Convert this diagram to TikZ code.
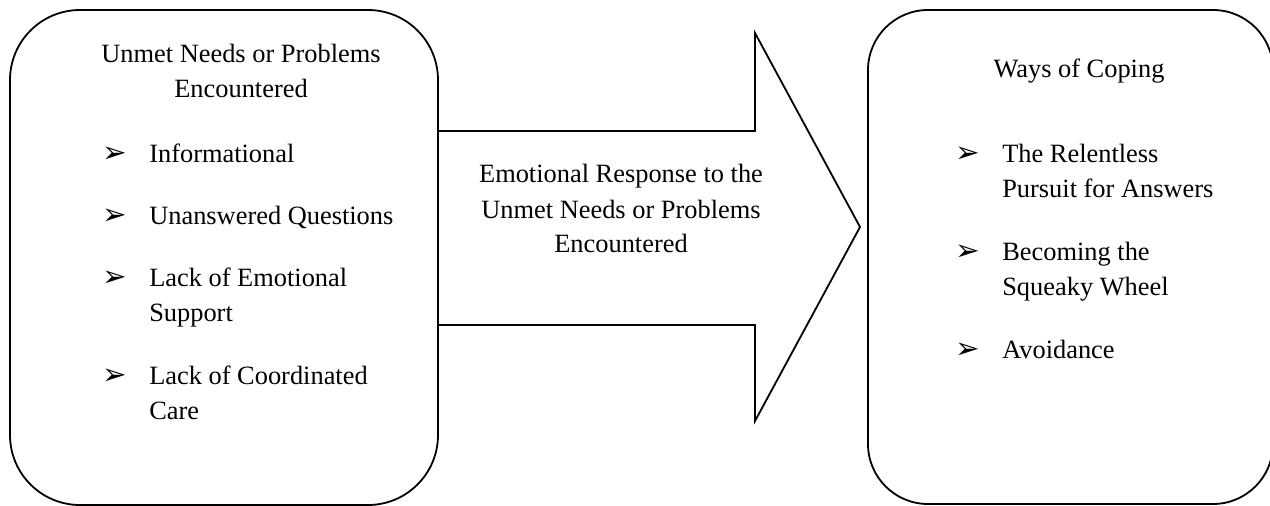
\documentclass[tikz,border=0pt]{standalone}
\usepackage{fontspec}
\setmainfont{Liberation Serif}
\newfontfamily\dvs{DejaVu Sans}
\begin{document}
\begin{tikzpicture}[x=0.75pt,y=-0.75pt,
  box/.style={draw, line width=1.35pt, inner sep=0pt, outer sep=0pt},
  txt/.style={font=\fontsize{19.8}{26}\selectfont, inner sep=0pt, anchor=base},
  txtl/.style={txt, anchor=base west},
  bul/.style={font=\dvs\fontsize{22}{26}\selectfont, inner sep=0pt, anchor=base west}]
\useasboundingbox (0,0) rectangle (1270,506);
\node[box, rounded corners=52.5pt, minimum width=321pt, minimum height=371.25pt] (left) at (224,257.5) {};
\node[box, rounded corners=45pt, minimum width=303.75pt, minimum height=370.5pt] (right) at (1070.5,257) {};
\coordinate (hb) at (755,131);
\coordinate (ht) at (755,33);
\coordinate (tip) at (860,227);
\coordinate (hbb) at (755,421);
\coordinate (hb2) at (755,325);
\draw[line width=1.35pt, line join=miter] (left.east |- hb) -- (hb) -- (ht) -- (tip) -- (hbb) -- (hb2) -- (left.east |- hb2);
% left box text
\node[txt] (l1) at (241,63) {Unmet Needs or Problems};
\node[txt] (l2) at (241,98) {Encountered};
\node[bul] (b1) at (102,163) {➢};
\node[txtl] (i1) at (149,163) {Informational};
\node[bul] (b2) at (102,224) {➢};
\node[txtl] (i2) at (149,224) {Unanswered Questions};
\node[bul] (b3) at (102,286) {➢};
\node[txtl] (i3) at (149,286) {Lack of Emotional};
\node[txtl] (i3b) at (149,321) {Support};
\node[bul] (b4) at (102,384) {➢};
\node[txtl] (i4) at (149,384) {Lack of Coordinated};
\node[txtl] (i4b) at (149,419) {Care};
% arrow text
\node[txt] (m1) at (621,183) {Emotional Response to the};
\node[txt] (m2) at (621,218) {Unmet Needs or Problems};
\node[txt] (m3) at (621,252) {Encountered};
% right box text
\node[txt] (r1) at (1079,78) {Ways of Coping};
\node[bul] (c1) at (955,162) {➢};
\node[txtl] (j1) at (1002,162) {The Relentless};
\node[txtl] (j1b) at (1002,197) {Pursuit for Answers};
\node[bul] (c2) at (955,260) {➢};
\node[txtl] (j2) at (1002,260) {Becoming the};
\node[txtl] (j2b) at (1002,295) {Squeaky Wheel};
\node[bul] (c3) at (955,358) {➢};
\node[txtl] (j3) at (1002,358) {Avoidance};
\end{tikzpicture}
\end{document}
